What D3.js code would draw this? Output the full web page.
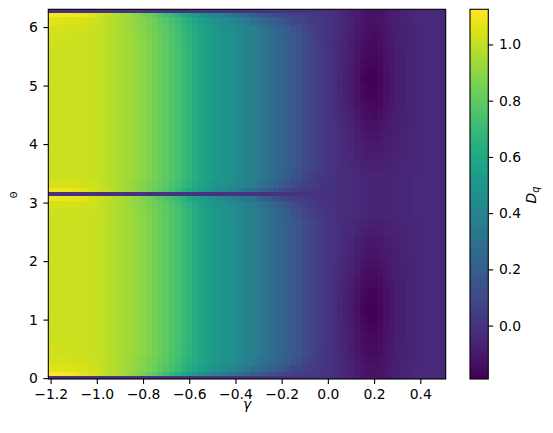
<!DOCTYPE html>
<html>
<head>
<meta charset="utf-8">
<script src="https://cdn.jsdelivr.net/npm/d3@7"></script>
<style>
  body { margin: 0; background: #fff; }
  text { font-family: "DejaVu Sans", sans-serif; fill: #000; }
</style>
</head>
<body>
<svg id="chart" width="553" height="433"></svg>
<script>
// gamma columns (step 0.025) and theta rows
const gammaValues = [-1.2, -1.175, -1.15, -1.125, -1.1, -1.075, -1.05, -1.025, -1.0, -0.975, -0.95, -0.925, -0.9, -0.875,
  -0.85, -0.825, -0.8, -0.775, -0.75, -0.725, -0.7, -0.675, -0.65, -0.625, -0.6, -0.575, -0.55, -0.525, -0.5, -0.475,
  -0.45, -0.425, -0.4, -0.375, -0.35, -0.325, -0.3, -0.275, -0.25, -0.225, -0.2, -0.175, -0.15, -0.125, -0.1, -0.075,
  -0.05, -0.025, 0.0, 0.025, 0.05, 0.075, 0.1, 0.125, 0.15, 0.175, 0.2, 0.225, 0.25, 0.275, 0.3, 0.325, 0.35, 0.375,
  0.4, 0.425, 0.45, 0.475, 0.5];
const thetaValues = [0, 0.07, 0.14, 0.3, 0.42, 0.55, 0.7, 0.85, 1.0, 1.15, 1.3, 1.45, 1.62, 1.8, 1.97, 2.15, 2.32, 2.5,
  2.65, 2.8, 2.98, 3.07, 3.1416, 3.21, 3.3, 3.48, 3.63, 3.8, 3.97, 4.15, 4.32, 4.5, 4.65, 4.8, 4.95, 5.1, 5.25, 5.4,
  5.55, 5.7, 5.83, 5.95, 6.13, 6.21, 6.2832];

// D_q for gamma -1.2 .. 0.0 (49 columns)
const leftDark = [0,0,0,0,0,0,0,0,0,0, 0,0,0,0,0,0,0,0,0,0, 0,0,0,0,0,0,0,0,0,0, 0,0,0,0,0,0,0,0,0,0, 0,0,0,0,0,0,0,0,0];
const leftEdgeLow = [1.125,1.12,1.11,1.10,1.09,1.075,1.06,1.045,1.03,1.01, 0.99,0.97,0.95,0.925,0.90,0.875,0.85,0.82,0.79,0.755,
  0.72,0.68,0.64,0.595,0.55,0.51,0.47,0.44,0.41,0.38, 0.35,0.325,0.30,0.27,0.24,0.21,0.18,0.155,0.13,0.11, 0.09,0.075,0.06,0.05,0.04,0.03,0.02,0.01,0.0];
const leftEdgeHigh = [1.12,1.115,1.11,1.105,1.10,1.09,1.08,1.065,1.05,1.03, 1.01,0.985,0.96,0.935,0.91,0.885,0.86,0.83,0.80,0.765,
  0.73,0.69,0.65,0.605,0.56,0.52,0.48,0.45,0.42,0.39, 0.36,0.33,0.30,0.27,0.24,0.21,0.18,0.155,0.13,0.11, 0.09,0.075,0.06,0.05,0.04,0.03,0.02,0.01,0.0];
const leftNearEdge1 = [1.07,1.065,1.06,1.055,1.05,1.045,1.04,1.03,1.02,1.005, 0.99,0.975,0.96,0.94,0.92,0.90,0.88,0.855,0.83,0.80,
  0.77,0.735,0.70,0.66,0.62,0.585,0.55,0.52,0.49,0.465, 0.44,0.415,0.39,0.36,0.33,0.30,0.27,0.24,0.21,0.18, 0.15,0.125,0.10,0.08,0.06,0.045,0.03,0.02,0.01];
const leftNearEdge2 = [1.04,1.04,1.04,1.035,1.03,1.03,1.03,1.02,1.01,1.0, 0.99,0.975,0.96,0.94,0.92,0.90,0.88,0.86,0.84,0.815,
  0.79,0.755,0.72,0.685,0.65,0.615,0.58,0.55,0.52,0.50, 0.48,0.46,0.44,0.415,0.39,0.36,0.33,0.30,0.27,0.24, 0.21,0.18,0.15,0.12,0.09,0.065,0.04,0.025,0.01];
const leftNearEdge3 = [1.03,1.03,1.03,1.025,1.02,1.02,1.02,1.015,1.01,1.0, 0.99,0.975,0.96,0.945,0.93,0.91,0.89,0.87,0.85,0.825,
  0.80,0.765,0.73,0.695,0.66,0.625,0.59,0.56,0.53,0.51, 0.49,0.47,0.45,0.425,0.40,0.375,0.35,0.32,0.29,0.26, 0.23,0.20,0.17,0.14,0.11,0.08,0.05,0.025,0.0];
const leftMid = [1.02,1.02,1.02,1.02,1.02,1.02,1.02,1.015,1.01,1.0, 0.99,0.975,0.96,0.945,0.93,0.91,0.89,0.87,0.85,0.825,
  0.80,0.77,0.74,0.705,0.67,0.63,0.59,0.56,0.53,0.51, 0.49,0.47,0.45,0.425,0.40,0.375,0.35,0.32,0.29,0.26, 0.23,0.20,0.17,0.14,0.11,0.085,0.06,0.04,0.015];
const leftNearPi1 = [1.02,1.02,1.02,1.02,1.02,1.02,1.02,1.015,1.01,1.0, 0.99,0.975,0.96,0.945,0.93,0.91,0.89,0.87,0.85,0.825,
  0.80,0.77,0.74,0.705,0.67,0.63,0.59,0.56,0.53,0.51, 0.49,0.47,0.45,0.425,0.40,0.375,0.35,0.32,0.29,0.255, 0.22,0.19,0.16,0.125,0.09,0.065,0.04,0.025,0.01];
const leftNearPi2 = [1.04,1.04,1.04,1.04,1.04,1.035,1.03,1.025,1.02,1.005, 0.99,0.975,0.96,0.94,0.92,0.90,0.88,0.86,0.84,0.815,
  0.79,0.755,0.72,0.685,0.65,0.61,0.57,0.54,0.51,0.49, 0.47,0.45,0.43,0.405,0.38,0.35,0.32,0.29,0.26,0.22, 0.18,0.145,0.11,0.085,0.06,0.045,0.03,0.015,0.0];
const leftNearPi3 = [1.10,1.095,1.09,1.085,1.08,1.07,1.06,1.045,1.03,1.015, 1.0,0.98,0.96,0.94,0.92,0.895,0.87,0.845,0.82,0.79,
  0.76,0.725,0.69,0.65,0.61,0.57,0.53,0.50,0.47,0.445, 0.42,0.395,0.37,0.34,0.31,0.28,0.25,0.21,0.17,0.135, 0.10,0.08,0.06,0.045,0.03,0.02,0.01,0.005,0.0];

// D_q for gamma 0.025 .. 0.5 (20 columns), named by theta distance from the nearest edge
const rightEdge = [-0.015,-0.03,-0.05,-0.07,-0.09,-0.11,-0.125,-0.13,-0.125,-0.11, -0.09,-0.075,-0.065,-0.055,-0.045,-0.04,-0.04,-0.04,-0.04,-0.04];
const right030 = [-0.01,-0.03,-0.05,-0.075,-0.10,-0.12,-0.135,-0.14,-0.13,-0.115, -0.095,-0.08,-0.07,-0.06,-0.055,-0.05,-0.045,-0.04,-0.04,-0.04];
const right042 = [-0.015,-0.035,-0.055,-0.08,-0.105,-0.13,-0.145,-0.15,-0.14,-0.12, -0.10,-0.08,-0.07,-0.06,-0.055,-0.05,-0.045,-0.04,-0.04,-0.04];
const right055 = [-0.02,-0.04,-0.06,-0.085,-0.11,-0.135,-0.15,-0.155,-0.145,-0.12, -0.10,-0.08,-0.07,-0.06,-0.055,-0.05,-0.045,-0.04,-0.04,-0.04];
const right070 = [-0.02,-0.04,-0.063,-0.088,-0.115,-0.143,-0.158,-0.163,-0.15,-0.125, -0.105,-0.085,-0.073,-0.06,-0.055,-0.05,-0.045,-0.04,-0.04,-0.04];
const right085 = [-0.02,-0.04,-0.065,-0.09,-0.12,-0.15,-0.165,-0.17,-0.155,-0.13, -0.11,-0.09,-0.075,-0.06,-0.055,-0.05,-0.045,-0.04,-0.04,-0.04];
const right100 = [-0.022,-0.045,-0.07,-0.095,-0.128,-0.16,-0.177,-0.182,-0.163,-0.135, -0.112,-0.09,-0.075,-0.06,-0.055,-0.05,-0.045,-0.04,-0.04,-0.04];
const right115 = [-0.025,-0.05,-0.075,-0.10,-0.135,-0.17,-0.185,-0.19,-0.17,-0.14, -0.115,-0.09,-0.075,-0.06,-0.055,-0.05,-0.045,-0.04,-0.04,-0.04];
const right130 = [-0.022,-0.048,-0.073,-0.098,-0.13,-0.163,-0.178,-0.183,-0.165,-0.138, -0.113,-0.09,-0.075,-0.06,-0.055,-0.05,-0.045,-0.04,-0.04,-0.04];
const right145 = [-0.02,-0.045,-0.07,-0.095,-0.125,-0.155,-0.17,-0.175,-0.16,-0.135, -0.11,-0.09,-0.075,-0.06,-0.055,-0.05,-0.045,-0.04,-0.04,-0.04];
const right162 = [-0.015,-0.04,-0.063,-0.085,-0.113,-0.143,-0.158,-0.163,-0.15,-0.125, -0.103,-0.085,-0.073,-0.06,-0.055,-0.05,-0.045,-0.04,-0.04,-0.04];
const right180 = [-0.01,-0.035,-0.055,-0.075,-0.10,-0.13,-0.145,-0.15,-0.14,-0.115, -0.095,-0.08,-0.07,-0.06,-0.055,-0.05,-0.045,-0.04,-0.04,-0.04];
const right197 = [-0.005,-0.03,-0.048,-0.068,-0.09,-0.115,-0.13,-0.135,-0.125,-0.105, -0.09,-0.078,-0.068,-0.058,-0.053,-0.05,-0.045,-0.04,-0.04,-0.04];
const right215 = [0.0,-0.025,-0.04,-0.06,-0.08,-0.10,-0.115,-0.12,-0.11,-0.095, -0.085,-0.075,-0.065,-0.055,-0.05,-0.05,-0.045,-0.04,-0.04,-0.04];
const right232 = [0.0,-0.023,-0.038,-0.053,-0.07,-0.088,-0.10,-0.105,-0.098,-0.085, -0.078,-0.07,-0.063,-0.053,-0.05,-0.048,-0.045,-0.04,-0.04,-0.04];
const right250 = [0.0,-0.02,-0.035,-0.045,-0.06,-0.075,-0.085,-0.09,-0.085,-0.075, -0.07,-0.065,-0.06,-0.05,-0.05,-0.045,-0.045,-0.04,-0.04,-0.04];
const right265 = [-0.003,-0.02,-0.03,-0.038,-0.05,-0.063,-0.07,-0.075,-0.073,-0.068, -0.063,-0.058,-0.055,-0.05,-0.048,-0.043,-0.043,-0.04,-0.04,-0.04];
const rightNearPi = [-0.005,-0.02,-0.025,-0.03,-0.04,-0.05,-0.055,-0.06,-0.06,-0.06, -0.055,-0.05,-0.05,-0.05,-0.045,-0.04,-0.04,-0.04,-0.04,-0.04];
const rightPi = [-0.015,-0.02,-0.025,-0.03,-0.04,-0.05,-0.055,-0.06,-0.06,-0.06, -0.055,-0.05,-0.05,-0.05,-0.045,-0.04,-0.04,-0.04,-0.04,-0.04];

// one row per theta value, bottom to top
const dqRows = [
  [...leftDark, ...rightEdge],          // 0
  [...leftEdgeLow, ...rightEdge],       // 0.07
  [...leftNearEdge1, ...rightEdge],     // 0.14
  [...leftNearEdge2, ...right030],      // 0.3
  [...leftNearEdge3, ...right042],      // 0.42
  [...leftNearEdge3, ...right055],      // 0.55
  [...leftMid, ...right070],            // 0.7
  [...leftMid, ...right085],            // 0.85
  [...leftMid, ...right100],            // 1.0
  [...leftMid, ...right115],            // 1.15
  [...leftMid, ...right130],            // 1.3
  [...leftMid, ...right145],            // 1.45
  [...leftMid, ...right162],            // 1.62
  [...leftMid, ...right180],            // 1.8
  [...leftMid, ...right197],            // 1.97
  [...leftMid, ...right215],            // 2.15
  [...leftMid, ...right232],            // 2.32
  [...leftMid, ...right250],            // 2.5
  [...leftMid, ...right265],            // 2.65
  [...leftNearPi1, ...rightNearPi],     // 2.8
  [...leftNearPi2, ...rightNearPi],     // 2.98
  [...leftNearPi3, ...rightNearPi],     // 3.07
  [...leftDark, ...rightPi],            // pi
  [...leftNearPi3, ...rightNearPi],     // 3.21
  [...leftNearPi2, ...rightNearPi],     // 3.3
  [...leftNearPi1, ...rightNearPi],     // 3.48
  [...leftMid, ...right265],            // 3.63
  [...leftMid, ...right250],            // 3.8
  [...leftMid, ...right232],            // 3.97
  [...leftMid, ...right215],            // 4.15
  [...leftMid, ...right197],            // 4.32
  [...leftMid, ...right180],            // 4.5
  [...leftMid, ...right162],            // 4.65
  [...leftMid, ...right145],            // 4.8
  [...leftMid, ...right130],            // 4.95
  [...leftMid, ...right115],            // 5.1
  [...leftMid, ...right100],            // 5.25
  [...leftMid, ...right085],            // 5.4
  [...leftMid, ...right070],            // 5.55
  [...leftNearEdge3, ...right055],      // 5.7
  [...leftNearEdge3, ...right042],      // 5.83
  [...leftNearEdge2, ...right030],      // 5.95
  [...leftNearEdge1, ...rightEdge],     // 6.13
  [...leftEdgeHigh, ...rightEdge],      // 6.21
  [...leftDark, ...rightEdge]           // 2pi
];

const xTicks = [-1.2, -1.0, -0.8, -0.6, -0.4, -0.2, 0.0, 0.2, 0.4];
const yTicks = [0, 1, 2, 3, 4, 5, 6];
const cbTicks = [0.0, 0.2, 0.4, 0.6, 0.8, 1.0];

const svg = d3.select("#chart");
const plot = { left: 48.3, right: 445.7, top: 9.3, bottom: 379 };
const cb = { left: 470, right: 488.3, top: 9.3, bottom: 379 };
const fontSize = 13.9;
const tickLen = 4.9;

const x = d3.scaleLinear().domain([-1.21, 0.51]).range([plot.left, plot.right]);
const y = d3.scaleLinear().domain([-0.015, 2 * Math.PI + 0.02]).range([plot.bottom, plot.top]);
const color = d3.scaleSequential(d3.interpolateViridis).domain(d3.extent(dqRows.flat()));

// cell edges halfway between neighbouring centres (like shading='nearest')
function edges(c) {
  const e = [c[0] - (c[1] - c[0]) / 2];
  for (let i = 1; i < c.length; i++) e.push((c[i - 1] + c[i]) / 2);
  e.push(c[c.length - 1] + (c[c.length - 1] - c[c.length - 2]) / 2);
  return e;
}
const gPix = edges(gammaValues).map(v => Math.round(x(v)));
const tPix = edges(thetaValues).map(v => Math.round(y(v)));

const cells = [];
dqRows.forEach((row, i) => row.forEach((v, j) => cells.push({ i, j, v })));

svg.append("clipPath").attr("id", "plot-clip")
  .append("rect")
  .attr("x", plot.left).attr("y", plot.top)
  .attr("width", plot.right - plot.left).attr("height", plot.bottom - plot.top);

svg.append("g")
  .attr("clip-path", "url(#plot-clip)")
  .attr("shape-rendering", "crispEdges")
  .selectAll("rect")
  .data(cells)
  .enter().append("rect")
  .attr("x", d => gPix[d.j])
  .attr("width", d => gPix[d.j + 1] - gPix[d.j])
  .attr("y", d => tPix[d.i + 1])
  .attr("height", d => tPix[d.i] - tPix[d.i + 1])
  .attr("fill", d => color(d.v));

// axes
const xAxis = svg.append("g")
  .attr("transform", `translate(0,${plot.bottom})`)
  .call(d3.axisBottom(x).tickValues(xTicks).tickFormat(d3.format(".1f")).tickSize(tickLen).tickPadding(5.6));
const yAxis = svg.append("g")
  .attr("transform", `translate(${plot.left},0)`)
  .call(d3.axisLeft(y).tickValues(yTicks).tickFormat(d3.format("d")).tickSize(tickLen).tickPadding(5.6));

[xAxis, yAxis].forEach(g => {
  g.select(".domain").remove();
  g.selectAll(".tick line").attr("stroke", "#000").attr("stroke-width", 1.1);
  g.selectAll(".tick text").attr("font-size", fontSize).attr("font-family", "DejaVu Sans").attr("fill", "#000");
});

svg.append("rect")
  .attr("x", plot.left).attr("y", plot.top)
  .attr("width", plot.right - plot.left).attr("height", plot.bottom - plot.top)
  .attr("fill", "none").attr("stroke", "#000").attr("stroke-width", 1.1);

svg.append("text")
  .attr("x", (plot.left + plot.right) / 2).attr("y", 408.5)
  .attr("text-anchor", "middle").attr("font-size", fontSize).attr("font-style", "italic")
  .text("γ");

svg.append("text")
  .attr("transform", `translate(17,195) rotate(-90)`)
  .attr("text-anchor", "middle").attr("font-size", 8.5)
  .text("Θ");

// colorbar
const cy = d3.scaleLinear().domain(color.domain()).range([cb.bottom, cb.top]);
svg.append("g")
  .attr("shape-rendering", "crispEdges")
  .selectAll("rect")
  .data(d3.range(Math.floor(cb.top), Math.ceil(cb.bottom)))
  .enter().append("rect")
  .attr("x", cb.left).attr("width", cb.right - cb.left)
  .attr("y", d => d).attr("height", 1)
  .attr("fill", d => color(cy.invert(d + 0.5)));

svg.append("rect")
  .attr("x", cb.left).attr("y", cb.top)
  .attr("width", cb.right - cb.left).attr("height", cb.bottom - cb.top)
  .attr("fill", "none").attr("stroke", "#000").attr("stroke-width", 1.1);

const cAxis = svg.append("g")
  .attr("transform", `translate(${cb.right},0)`)
  .call(d3.axisRight(cy).tickValues(cbTicks).tickFormat(d3.format(".1f")).tickSize(tickLen).tickPadding(5.8));
cAxis.select(".domain").remove();
cAxis.selectAll(".tick line").attr("stroke", "#000").attr("stroke-width", 1.1);
cAxis.selectAll(".tick text").attr("font-size", fontSize).attr("font-family", "DejaVu Sans").attr("fill", "#000");

const cbLabel = svg.append("text")
  .attr("transform", `translate(536,195) rotate(-90)`)
  .attr("text-anchor", "middle").attr("font-size", fontSize);
cbLabel.append("tspan").attr("font-style", "italic").text("D");
cbLabel.append("tspan").attr("font-style", "italic").attr("font-size", fontSize * 0.7).attr("dy", 2.5).text("q");
</script>
</body>
</html>
